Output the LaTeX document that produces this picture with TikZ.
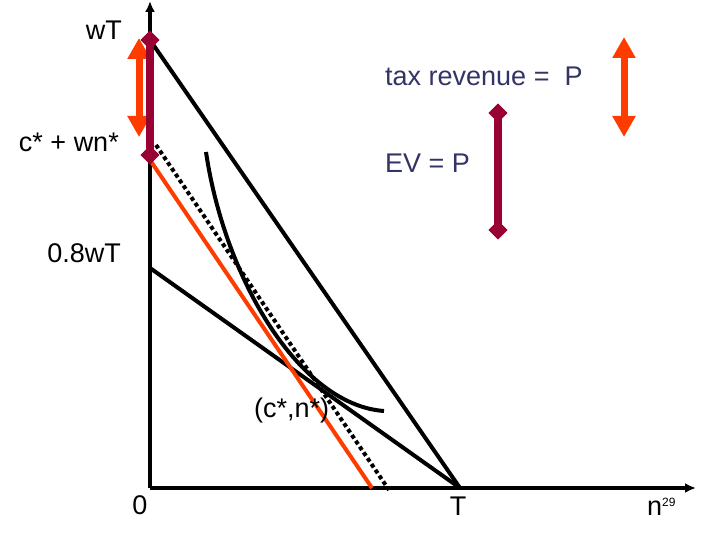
\documentclass[tikz,border=0pt]{standalone}
\usepackage{fontspec}
\setmainfont{Liberation Sans}
\usetikzlibrary{arrows.meta,shapes.geometric}
\definecolor{maroon}{RGB}{153,0,51}
\definecolor{orng}{RGB}{255,60,0}
\definecolor{navy}{RGB}{51,51,102}
\begin{document}
\begin{tikzpicture}[x=1pt,y=-1pt,
  lbl/.style={inner sep=0pt,font=\fontsize{27}{30}\selectfont},
  axis/.style={line width=3.5pt,-{Latex[length=11pt,width=10pt]}},
  budget/.style={line width=4pt},
  redline/.style={line width=4pt,draw=orng},
  dotline/.style={line width=4pt,dash pattern=on 4pt off 3pt},
  mbar/.style={line width=8pt,draw=maroon},
  dia/.style={diamond,fill=maroon,inner sep=0pt,minimum size=19pt},
  oarrow/.style={line width=7pt,draw=orng,{Triangle[length=21pt,width=22pt]}-{Triangle[length=21pt,width=22pt]}}]
\useasboundingbox (0,0) rectangle (720,540);
% key points
\coordinate (O) at (150,488);
\coordinate (ytop) at (150,1);
\coordinate (xend) at (696,488);
\coordinate (Tp) at (460,488);
\coordinate (Lw) at (150,268);
\coordinate (Rs) at (150,160);
\coordinate (Re) at (372,488);
\coordinate (Ds) at (156,145);
\coordinate (De) at (389,490);
\coordinate (Is) at (206,152);
\coordinate (Ie) at (384,411);
% axes
\draw[axis] (O) -- (ytop);
\draw[axis] (O) -- (xend);
% lines
\draw[budget] (150,40) -- (Tp);
\draw[budget] (Lw) -- (Tp);
\draw[redline] (Rs) -- (Re);
\draw[dotline] (Ds) -- (De);
\draw[budget] (Is) .. controls (225,280) and (300,405) .. (Ie);
% left markers
\draw[oarrow] (139,38) -- (139,137);
\node[dia] (d1) at (150,40) {};
\node[dia] (d2) at (150,155) {};
\draw[mbar] (d1.center) -- (d2.center);
\node[dia] at (150,40) {};
\node[dia] at (150,155) {};
% right markers
\node[dia] (d3) at (498,113) {};
\node[dia] (d4) at (498,230) {};
\draw[mbar] (d3.center) -- (d4.center);
\node[dia] at (498,113) {};
\node[dia] at (498,230) {};
\draw[oarrow] (624,37) -- (624,137);
% labels
\node[lbl,anchor=base east] (wT) at (122,40) {wT};
\node[lbl,anchor=base east] (cwn) at (119,152) {c* + wn*};
\node[lbl,anchor=base east] (w8) at (121,262) {0.8wT};
\node[lbl,anchor=base west,text=navy] (tax) at (385,86) {tax revenue =\ \ P};
\node[lbl,anchor=base west,text=navy] (ev) at (385,173) {EV = P};
\node[lbl,anchor=base west] (cn) at (254,417) {(c*,n*)};
\node[lbl,anchor=base] (zero) at (140,514) {0};
\node[lbl,anchor=base] (Tl) at (458,515) {T};
\node[lbl,anchor=base west] (nl) at (647,515) {n\raisebox{9pt}{\fontsize{12}{14}\selectfont 29}};
\end{tikzpicture}
\end{document}
